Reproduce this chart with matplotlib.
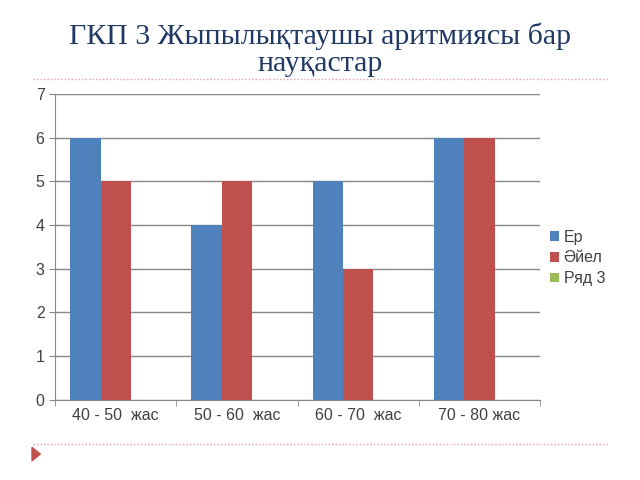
import matplotlib
matplotlib.use("Agg")
import matplotlib.pyplot as plt
import numpy as np

categories = ["40 - 50  жас", "50 - 60  жас", "60 - 70  жас", "70 - 80 жас"]
er = [6, 4, 5, 6]
aiel = [5, 5, 3, 6]
ryad3 = [0, 0, 0, 0]
series_names = ["Ер", "Әйел", "Ряд 3"]
colors = ["#4F81BD", "#C0504D", "#9BBB59"]
title = "ГКП 3 Жыпылықтаушы аритмиясы бар\nнауқастар"

plt.rcParams["font.family"] = ["Liberation Sans", "DejaVu Sans"]

fig = plt.figure(figsize=(6.4, 4.8), dpi=100)
ax = fig.add_axes([0.086, 0.167, 0.758, 0.637])

x = np.arange(len(categories))
w = 0.25
for i, (vals, name, c) in enumerate(zip([er, aiel, ryad3], series_names, colors)):
    ax.bar(x + (i - 1) * w, vals, w, color=c, label=name, zorder=3)

ax.set_xlim(-0.5, len(categories) - 0.5)
ax.set_ylim(0, 7)
ax.set_yticks(range(8))
ax.yaxis.grid(True, color="#888888", linewidth=1, zorder=0)
ax.set_xticks(x)
ax.set_xticklabels(categories, fontsize=11.5, color="#404040")
ax.set_xticks(np.arange(len(categories) + 1) - 0.5, minor=True)
ax.tick_params(axis="x", which="major", length=0, pad=6)
ax.tick_params(axis="x", which="minor", length=4, color="#888888")
ax.tick_params(axis="y", labelsize=11.5, labelcolor="#404040", length=4, color="#888888")
for s in ["top", "right"]:
    ax.spines[s].set_visible(False)
for s in ["left", "bottom"]:
    ax.spines[s].set_color("#888888")

# legend sits outside the axes, to the right
fig.legend(loc="center left", bbox_to_anchor=(0.837, 0.4625), frameon=False,
           fontsize=11.5, handlelength=0.55, handleheight=0.55, handletextpad=0.3,
           labelspacing=0.35, labelcolor="#404040")

fig.text(0.5, 0.896, title, ha="center", va="center", fontsize=21.5,
         family=["Liberation Serif", "DejaVu Serif"], color="#1F3864",
         linespacing=1.08)

# slide decorations: dotted rules and the bullet triangle
for yy in [0.835, 0.075]:
    fig.add_artist(plt.Line2D([0.052, 0.95], [yy, yy], transform=fig.transFigure,
                              color="#E8A0A8", linestyle=(0, (1, 1.5)), linewidth=1))
fig.add_artist(plt.Polygon([[0.05, 0.068], [0.05, 0.040], [0.063, 0.054]], closed=True,
                           transform=fig.transFigure, color="#C0504D"))

fig.savefig("out.png", dpi=100)
